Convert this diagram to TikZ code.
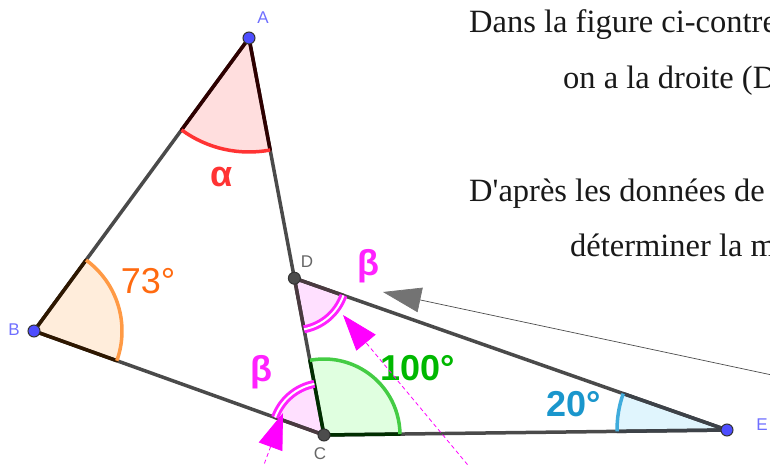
\documentclass[tikz,border=0pt]{standalone}
\usepackage{fontspec}
\setmainfont{Liberation Serif}
\setsansfont{Liberation Sans}
\usetikzlibrary{calc,angles,arrows.meta}

\definecolor{ptblue}{HTML}{4D4DFF}
\definecolor{lblblue}{HTML}{6F6FFF}
\definecolor{segcol}{HTML}{4A4A4A}
\definecolor{alphared}{HTML}{FF3333}
\definecolor{borange}{HTML}{FF9A45}
\definecolor{borangetext}{HTML}{FF6A10}
\definecolor{betamag}{HTML}{FF22FF}
\definecolor{hintmag}{HTML}{FF00FF}
\definecolor{cgreen}{HTML}{44CC44}
\definecolor{cgreentext}{HTML}{00B800}
\definecolor{eblue}{HTML}{40ACDC}
\definecolor{ebluetext}{HTML}{1A96CC}

\tikzset{
  seg/.style={
    line width=3.5pt,
    segcol,
    line cap=round,
    line join=round
  },
  rim/.style={
    line width=3.5pt,
    line cap=round
  },
  vertex/.style={
    inner sep = 0pt,
    shape = circle,
    minimum size = 12pt,
    draw = black!80,
    line width = 1pt,
    fill = ptblue
  },
  vertexgray/.style={
    vertex,
    fill = black!70
  },
  ptlabel/.style={
    font = \sffamily\fontsize{17}{17}\selectfont,
    inner sep=0pt
  },
  anglabel/.style={
    font = \sffamily\fontsize{36}{36}\selectfont,
    inner sep=0pt
  },
  anglabelbf/.style={
    font = \sffamily\bfseries\fontsize{36}{36}\selectfont,
    inner sep=0pt
  },
  arcline/.style={
    line width=3.5pt
  },
  betaarc/.style={
    draw=betamag,
    double=white,
    double distance=2pt,
    line width=3pt
  },
  hint/.style={
    hintmag,
    line width=0.8pt,
    dash pattern=on 4pt off 3pt,
    -{Triangle[length=36pt,width=25pt]}
  },
  vec/.style={
    black!70,
    line width=0.7pt,
    -{Triangle[length=38pt,width=25pt,color=black!55]}
  },
  textline/.style={
    font = \fontsize{32.5}{32.5}\selectfont,
    anchor = base west,
    inner sep=0pt,
    text = black!90
  }
}

\begin{document}
\begin{tikzpicture}[x=1pt,y=1pt]
    \useasboundingbox (0,0) rectangle (770,464);
    \clip (0,0) rectangle (770,464);
    \coordinate (A) at (249,426);
    \coordinate (B) at (34,133);
    \coordinate (C) at (324,29);
    \coordinate (D) at ($(A)!0.605!(C)$);
    \coordinate (E) at (727,34);

    % filled sectors
    \pic[fill=red!13, angle radius=114pt] {angle=B--A--D};
    \pic[fill=orange!14, angle radius=88pt] {angle=C--B--A};
    \pic[fill=betamag!14, angle radius=52pt] {angle=D--C--B};
    \pic[fill=betamag!14, angle radius=52pt] {angle=C--D--E};
    \pic[fill=green!12, angle radius=76pt] {angle=E--C--D};
    \pic[fill=cyan!12, angle radius=110pt] {angle=D--E--C};

    \draw[seg] (B) -- (A) -- (C) -- cycle;
    \draw[seg] (D) -- (E) -- (C);
    \foreach \p/\q/\r/\c in {A/B/114/red, A/D/114/red, B/A/88/orange, B/C/88/orange,
                             C/B/52/magenta, C/D/76/green, C/E/76/green,
                             D/C/52/magenta, D/E/52/magenta, E/D/110/cyan, E/C/110/cyan}
        \draw[rim, \c!18!black] (\p) -- ($(\p)!\r pt!(\q)$);

    % arcs
    \pic[draw=alphared, arcline, angle radius=114pt] {angle=B--A--D};
    \pic[draw=borange, arcline, angle radius=88pt] {angle=C--B--A};
    \pic[betaarc, angle radius=52pt] {angle=D--C--B};
    \pic[betaarc, angle radius=52pt] {angle=C--D--E};
    \pic[draw=cgreen, arcline, angle radius=76pt] {angle=E--C--D};
    \pic[draw=eblue, arcline, angle radius=110pt] {angle=D--E--C};

    \node[anglabelbf, text=alphared] (alpha) at (222,287) {α};
    \node[anglabel, text=borangetext] (angB) at (148,183) {73°};
    \node[anglabelbf, text=betamag] (betaD) at (368,198) {β};
    \node[anglabelbf, text=betamag] (betaC) at (261,92) {β};
    \node[anglabelbf, text=cgreentext] (angC) at (418,96) {100°};
    \node[anglabelbf, text=ebluetext] (angE) at (574,60) {20°};

    % arrows
    \coordinate (v1) at (800,83);
    \coordinate (v2) at (383,172);
    \draw[vec] (v1) -- (v2);
    \coordinate (h1) at (262,-6);
    \coordinate (h2) at (283,51);
    \draw[hint] (h1) -- (h2);
    \coordinate (h3) at (472,-6);
    \coordinate (h4) at (343,149);
    \draw[hint] (h3) -- (h4);

    \node[vertex] (pA) at (A) {};
    \node[vertex] (pB) at (B) {};
    \node[vertex] (pE) at (E) {};
    \node[vertexgray] (pC) at (C) {};
    \node[vertexgray] (pD) at (D) {};
    \node[ptlabel, text=lblblue] (lA) at (263,446) {A};
    \node[ptlabel, text=lblblue] (lB) at (14,134) {B};
    \node[ptlabel, text=lblblue] (lE) at (762,39) {E};
    \node[ptlabel, text=black!60] (lC) at (320,10) {C};
    \node[ptlabel, text=black!60] (lD) at (307,202) {D};

    \node[textline] (t1) at (469,431) {Dans la figure ci-contre};
    \node[textline] (t2) at (563,375) {on a la droite (D};
    \node[textline] (t3) at (469,262) {D\textquotesingle après les données de};
    \node[textline] (t4) at (570,208) {déterminer la m};
\end{tikzpicture}
\end{document}
